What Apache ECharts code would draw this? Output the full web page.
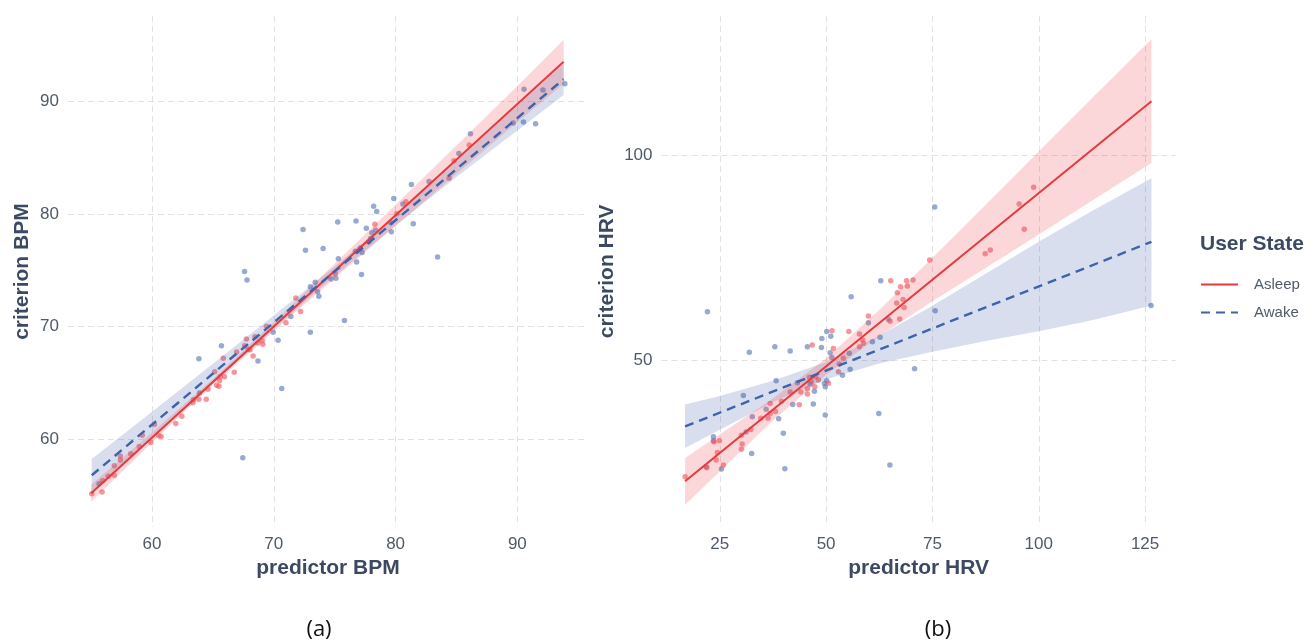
<!DOCTYPE html>
<html>
<head>
<meta charset="utf-8">
<title>Criterion vs predictor: BPM and HRV by user state</title>
<script src="https://cdn.jsdelivr.net/npm/echarts@6/dist/echarts.min.js"></script>
<style>
  html, body { margin: 0; padding: 0; background: #ffffff; }
  #chart { width: 1316px; height: 642px; }
</style>
</head>
<body>
<div id="chart"></div>
<script>
// ---- Panel (a): heart rate, [predictor BPM, criterion BPM] ----
const bpmAsleep = [
  [55.05,55.15],[55.9,55.3],[55.95,56.3],[56.4,56.7],[56.9,57.65],[56.9,56.8],[57.4,58.15],[57.4,58.5],
  [58.25,58.7],[58.95,59.35],[59.2,60.35],[59.9,59.7],[60.2,61.3],[60.55,60.3],[60.75,60.25],[61.95,61.4],
  [62.45,62.05],[63.35,63.25],[63.4,63.5],[63.85,63.55],[64.45,63.55],[64.6,64.45],[65.15,66.0],[65.3,64.8],
  [65.5,64.7],[65.55,65.2],[65.6,65.55],[65.95,65.55],[65.85,67.2],[66.75,65.95],[66.95,67.75],[67.6,68.3],
  [67.75,68.9],[67.9,68.0],[68.05,67.95],[68.3,67.4],[68.45,69.1],[68.7,68.55],[69.05,68.75],[69.1,68.45],
  [69.4,70.05],[71.0,70.35],[71.8,72.55],[72.2,71.35],[75.05,74.7],[78.3,79.1],[80.1,80.05],[80.85,81.1],
  [84.4,83.2],[84.8,84.75],[86.05,86.15]
];
const bpmAwake = [
  [55.65,56.05],[63.85,67.15],[63.9,64.1],[65.7,68.3],[67.45,58.35],[67.6,74.9],[67.8,74.15],[68.7,66.95],
  [69.95,69.5],[70.35,68.8],[70.65,64.5],[71.4,70.9],[72.4,78.65],[72.6,76.8],[73.0,69.5],[73.0,73.55],
  [73.4,73.95],[73.6,73.1],[73.7,72.7],[74.05,76.95],[74.7,74.25],[75.1,74.3],[75.25,79.3],[75.3,76.05],
  [75.8,70.55],[76.7,76.7],[76.75,79.4],[76.8,75.75],[77.1,77.0],[77.2,74.65],[77.25,76.6],[77.6,78.75],
  [77.8,77.55],[77.95,77.85],[78.05,78.35],[78.2,80.7],[78.35,78.6],[78.45,80.25],[79.6,79.25],[79.65,78.45],
  [79.85,81.4],[80.6,80.9],[81.3,82.65],[81.45,79.15],[82.75,82.9],[83.45,76.2],[85.2,85.4],[86.15,87.15],
  [89.65,88.1],[90.5,88.2],[90.55,91.1],[91.5,88.05],[92.1,91.05],[93.9,91.6]
];
// fitted lines (endpoints) and confidence ribbons [x, lower, upper]
const bpmAsleepFit = [[55.0,55.2],[93.8,93.55]];
const bpmAwakeFit = [[55.05,56.8],[93.8,92.0]];
const bpmAsleepBand = [
  [55.0,54.45,55.95],[60,59.7,60.6],[65,64.85,65.35],[70,69.6,70.4],[75,74.3,75.6],
  [80,78.95,80.85],[85,83.6,86.1],[90,88.2,91.4],[93.8,91.6,95.5]
];
const bpmAwakeBand = [
  [55.05,55.35,58.25],[60,60.15,62.45],[65,65.0,66.7],[70,69.8,71.0],[75,74.5,75.35],
  [80,79.0,79.9],[85,83.3,84.7],[90,87.45,89.65],[93.8,90.6,93.4]
];
const bpmTicks = [60, 70, 80, 90];

// ---- Panel (b): heart rate variability, [predictor HRV, criterion HRV] ----
const hrvAsleep = [
  [16.85,21.7],[21.95,23.9],[24.15,25.8],[23.65,30.25],[24.9,30.5],[24.45,27.65],[25.85,24.55],[30.1,28.4],
  [30.25,29.7],[30.1,31.8],[32.3,33.25],[34.65,35.95],[36.35,35.95],[36.85,37.15],[38.1,37.65],[36.85,39.6],
  [39.5,40.1],[41.55,42.35],[43.7,39.25],[44.05,42.35],[45.6,43.15],[45.6,41.9],[46.55,44.95],[47.35,43.65],
  [46.05,45.95],[48.2,45.3],[47.5,46.1],[46.75,53.85],[51.4,57.3],[51.7,53.0],[50.55,44.5],[52.9,47.3],
  [53.1,49.2],[54.05,50.6],[55.35,57.15],[57.85,56.5],[58.6,55.05],[57.85,53.4],[58.75,54.25],[59.95,60.9],
  [65.05,59.6],[67.3,60.2],[66.6,64.1],[68.1,64.95],[68.35,63.0],[66.75,66.6],[67.5,68.05],[65.2,69.5],
  [68.9,69.5],[69.1,68.2],[70.45,69.7],[74.35,74.55],[87.4,76.1],[88.6,77.0],[95.4,88.2],[96.6,82.05],
  [98.8,92.3]
];
const hrvAwake = [
  [22.1,61.95],[31.95,52.05],[37.95,53.4],[41.55,52.35],[45.6,53.4],[49.0,55.45],[50.15,57.15],[51.1,56.0],
  [48.9,53.25],[50.95,51.95],[51.35,50.8],[55.9,65.6],[55.45,51.8],[55.65,47.9],[53.85,46.45],[59.95,59.25],
  [60.9,54.65],[62.7,55.7],[64.65,60.1],[70.8,48.05],[62.4,37.15],[65.0,24.55],[38.25,45.1],[30.55,41.55],
  [32.65,36.35],[35.9,38.15],[38.85,35.85],[39.95,32.3],[42.15,39.3],[43.25,44.65],[47.0,39.45],[47.25,42.55],
  [49.8,36.75],[49.8,43.65],[49.6,44.5],[50.15,45.1],[46.25,44.3],[31.2,32.6],[23.5,31.45],[23.5,30.5],
  [32.5,27.4],[21.8,24.15],[25.4,23.6],[40.3,23.65],[62.85,69.5],[75.55,87.5],[75.65,62.2],[126.4,63.5]
];
const hrvAsleepFit = [[16.85,20.6],[126.5,113.3]];
const hrvAwakeFit = [[16.85,34.0],[126.5,79.0]];
const hrvAsleepBand = [
  [16.85,14.9,26.3],[25,23.0,32.0],[37.5,35.4,40.8],[50,46.6,50.6],[62.5,56.0,62.4],
  [75,64.5,75.1],[87.5,72.6,88.0],[100,80.8,101.0],[112.5,89.0,114.0],[126.5,98.2,128.4]
];
const hrvAwakeBand = [
  [16.85,28.7,39.3],[25,33.2,41.4],[37.5,39.9,45.1],[50,45.5,49.7],[62.5,49.3,56.1],
  [75,52.2,63.4],[87.5,54.8,71.2],[100,57.2,79.0],[112.5,59.9,86.5],[126.5,63.5,94.5]
];
const hrvXTicks = [25, 50, 75, 100, 125];
const hrvYTicks = [50, 100];

const stateNames = ['Asleep', 'Awake'];
const panelTags = ['(a)', '(b)'];

// ---- styling ----
const FONT = '"Liberation Sans", Arial, Helvetica, sans-serif';
const RED = '#e4393e';
const BLUE = '#3d63aa';
const RED_PT = 'rgba(238,88,95,0.78)';
const BLUE_PT = 'rgba(88,118,182,0.78)';
const RED_BAND = 'rgba(236,72,80,0.22)';
const BLUE_BAND = 'rgba(60,90,170,0.2)';
const TICK_COLOR = '#4f5a69';
const TITLE_COLOR = '#3b4a62';

function valueAxis(gridIndex, min, max, ticks, name, nameGap) {
  return {
    type: 'value', gridIndex: gridIndex, min: min, max: max,
    name: name, nameLocation: 'middle', nameGap: nameGap,
    nameTextStyle: { color: TITLE_COLOR, fontSize: 21, fontWeight: 'bold', fontFamily: FONT },
    axisLine: { show: false },
    axisTick: { show: false, customValues: ticks },
    axisLabel: { customValues: ticks, color: TICK_COLOR, fontSize: 17, fontFamily: FONT, margin: 9 },
    splitLine: { show: true, lineStyle: { color: '#e1e1e1', width: 1, type: [6, 4] } }
  };
}

function scatter(name, data, gi, color) {
  return {
    type: 'scatter', name: name, data: data, xAxisIndex: gi, yAxisIndex: gi,
    symbol: 'circle', symbolSize: 5.5, itemStyle: { color: color }, z: 2, silent: true
  };
}

function fitLine(name, data, gi, color, dashed) {
  return {
    type: 'line', name: name, data: data, xAxisIndex: gi, yAxisIndex: gi,
    symbol: 'none', z: 4, silent: true,
    lineStyle: { color: color, width: dashed ? 2.4 : 2, type: dashed ? [9, 6] : 'solid' },
    itemStyle: { color: color }
  };
}

function band(name, rows, gi, fill) {
  return {
    type: 'custom', name: name, coordinateSystem: 'cartesian2d',
    xAxisIndex: gi, yAxisIndex: gi, data: rows, encode: { x: 0, y: [1, 2] },
    z: 3, silent: true,
    renderItem: function (params, api) {
      if (params.dataIndex !== 0) return null;
      const upper = rows.map(r => api.coord([r[0], r[2]]));
      const lower = rows.map(r => api.coord([r[0], r[1]])).reverse();
      return { type: 'polygon', shape: { points: upper.concat(lower) }, style: { fill: fill } };
    }
  };
}

const chart = echarts.init(document.getElementById('chart'), null, { renderer: 'canvas' });

chart.setOption({
  backgroundColor: '#ffffff',
  animation: false,
  grid: [
    { left: 68, top: 16.2, width: 520, height: 510.8 },
    { left: 661.5, top: 16.1, width: 514.2, height: 510.5 }
  ],
  xAxis: [
    valueAxis(0, 53.1, 95.8, bpmTicks, 'predictor BPM', 31),
    valueAxis(1, 11.3, 132.2, hrvXTicks, 'predictor HRV', 31)
  ],
  yAxis: [
    valueAxis(0, 52.2, 97.6, bpmTicks, 'criterion BPM', 35),
    valueAxis(1, 9.55, 134.05, hrvYTicks, 'criterion HRV', 44)
  ],
  title: {
    text: 'User State', left: 1195, top: 229,
    textStyle: { color: TITLE_COLOR, fontSize: 21, fontWeight: 'bold', fontFamily: FONT }
  },
  legend: {
    data: stateNames, orient: 'vertical', left: 1195, top: 272,
    itemWidth: 37, itemHeight: 14, itemGap: 13,
    itemStyle: { opacity: 0 },
    textStyle: { color: TICK_COLOR, fontSize: 15, fontFamily: FONT, padding: [0, 0, 0, 11] },
    selectedMode: false
  },
  graphic: [
    { type: 'text', x: 319, y: 630, style: { text: panelTags[0], align: 'center', verticalAlign: 'middle', fill: '#111111', font: '22px "Open Sans", "Noto Sans", sans-serif' } },
    { type: 'text', x: 938, y: 630, style: { text: panelTags[1], align: 'center', verticalAlign: 'middle', fill: '#111111', font: '22px "Open Sans", "Noto Sans", sans-serif' } }
  ],
  series: [
    fitLine(stateNames[0], bpmAsleepFit, 0, RED, false),
    fitLine(stateNames[1], bpmAwakeFit, 0, BLUE, true),
    fitLine(stateNames[0], hrvAsleepFit, 1, RED, false),
    fitLine(stateNames[1], hrvAwakeFit, 1, BLUE, true),
    scatter(stateNames[1], bpmAwake, 0, BLUE_PT),
    scatter(stateNames[0], bpmAsleep, 0, RED_PT),
    scatter(stateNames[1], hrvAwake, 1, BLUE_PT),
    scatter(stateNames[0], hrvAsleep, 1, RED_PT),
    band(stateNames[1], bpmAwakeBand, 0, BLUE_BAND),
    band(stateNames[0], bpmAsleepBand, 0, RED_BAND),
    band(stateNames[1], hrvAwakeBand, 1, BLUE_BAND),
    band(stateNames[0], hrvAsleepBand, 1, RED_BAND)
  ]
});
</script>
</body>
</html>
